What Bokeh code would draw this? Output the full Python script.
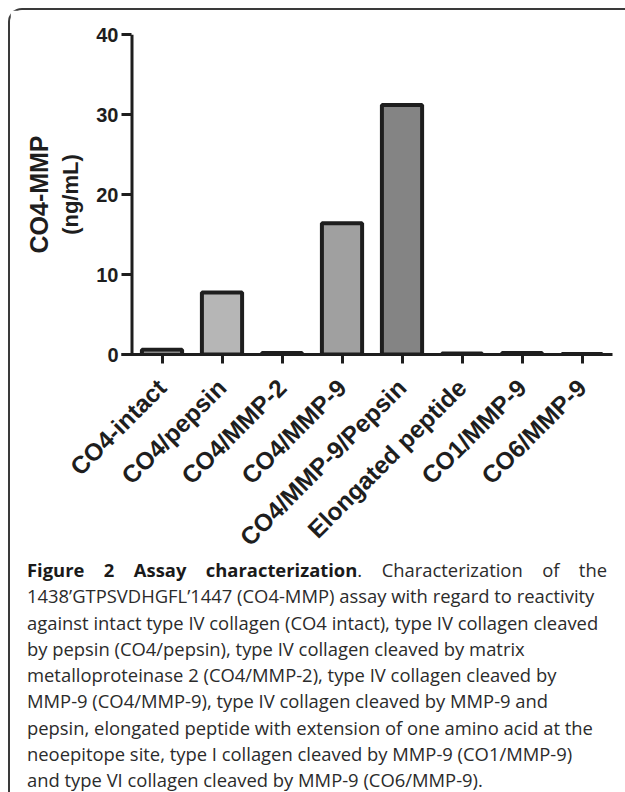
import math
from bokeh.plotting import figure
from bokeh.models import Range1d, FixedTicker, Span, LinearAxis, Div, ColumnDataSource
from bokeh.layouts import column
from bokeh.embed import file_html
from bokeh.resources import INLINE

# ---- data -------------------------------------------------------------
categories = ["CO4-intact", "CO4/pepsin", "CO4/MMP-2", "CO4/MMP-9",
              "CO4/MMP-9/Pepsin", "Elongated peptide", "CO1/MMP-9", "CO6/MMP-9"]
values = [0.6, 7.75, 0.2, 16.4, 31.2, 0.12, 0.2, 0.05]
fill_colors = ["#f4f4f4", "#b6b6b6", "#d8d8d8", "#a0a0a0",
               "#848484", "#d0d0d0", "#c4c4c4", "#bcbcbc"]
y_ticks = [0, 10, 20, 30, 40]
y_title = "CO4-MMP"
y_unit = "(ng/mL)"

caption_bold = "Figure 2 Assay characterization"
caption_first_rest = ". Characterization of the"
caption_lines = [
    "1438\u2019GTPSVDHGFL\u20191447 (CO4-MMP) assay with regard to reactivity",
    "against intact type IV collagen (CO4 intact), type IV collagen cleaved",
    "by pepsin (CO4/pepsin), type IV collagen cleaved by matrix",
    "metalloproteinase 2 (CO4/MMP-2), type IV collagen cleaved by",
    "MMP-9 (CO4/MMP-9), type IV collagen cleaved by MMP-9 and",
    "pepsin, elongated peptide with extension of one amino acid at the",
    "neoepitope site, type I collagen cleaved by MMP-9 (CO1/MMP-9)",
    "and type VI collagen cleaved by MMP-9 (CO6/MMP-9).",
]

# ---- chart ------------------------------------------------------------
ink = "#1e1e1e"
positions = list(range(len(categories)))
src = ColumnDataSource(dict(x=positions, top=values, color=fill_colors))

p = figure(frame_width=491, frame_height=320,
           x_range=Range1d(-0.675, len(categories) - 1 + 0.508),
           y_range=Range1d(y_ticks[0], y_ticks[-1]),
           output_backend="svg", toolbar_location=None,
           min_border_left=111, min_border_top=24,
           min_border_right=13, min_border_bottom=216)
p.outline_line_color = None
p.grid.visible = False
p.background_fill_color = "white"
p.border_fill_color = "white"

p.vbar(x="x", top="top", bottom=0, width=0.67, fill_color="color",
       line_color=ink, line_width=4, source=src)

# y axis line drawn at the left edge of the first category cell
p.add_layout(Span(location=-0.5, dimension="height", line_color=ink, line_width=3))

font = "Liberation Sans"
ya = p.yaxis[0]
ya.ticker = FixedTicker(ticks=y_ticks)
ya.axis_line_color = None
ya.major_tick_in = 10
ya.major_tick_out = 0
ya.major_tick_line_width = 3
ya.major_tick_line_color = ink
ya.minor_tick_line_color = None
ya.major_label_text_font = font
ya.major_label_text_font_style = "bold"
ya.major_label_text_font_size = "20px"
ya.major_label_text_color = ink
ya.major_label_standoff = 3
ya.axis_label = y_unit
ya.axis_label_text_font = font
ya.axis_label_text_font_style = "bold"
ya.axis_label_text_font_size = "22px"
ya.axis_label_text_color = ink
ya.axis_label_standoff = 10

ya2 = LinearAxis(ticker=FixedTicker(ticks=[]), axis_line_color=None,
                 major_tick_line_color=None, minor_tick_line_color=None,
                 axis_label=y_title, axis_label_text_font=font,
                 axis_label_text_font_style="bold",
                 axis_label_text_font_size="25px",
                 axis_label_text_color=ink, axis_label_standoff=3)
p.add_layout(ya2, "left")

xa = p.xaxis[0]
xa.ticker = FixedTicker(ticks=positions)
xa.major_label_overrides = {i: c for i, c in zip(positions, categories)}
xa.major_label_orientation = math.pi / 4
xa.axis_line_width = 3
xa.axis_line_color = ink
xa.major_tick_in = 0
xa.major_tick_out = 9
xa.major_tick_line_width = 3
xa.major_tick_line_color = ink
xa.minor_tick_line_color = None
xa.major_label_text_font = font
xa.major_label_text_font_style = "bold"
xa.major_label_text_font_size = "24.5px"
xa.major_label_text_color = ink
xa.major_label_standoff = 20

# ---- caption ----------------------------------------------------------
cap_font = "'Open Sans', sans-serif"
line_style = "white-space:nowrap;height:26.3px;line-height:26.3px;"
html = [f'<div style="font-family:{cap_font};font-size:18.4px;color:#2b2b2b;'
        f'padding-left:12px;width:592px;">']
html.append(f'<div style="{line_style}text-align:justify;text-align-last:justify;">'
            f'<b style="color:#1a1a1a;">{caption_bold}</b>{caption_first_rest}</div>')
for ln in caption_lines:
    html.append(f'<div style="{line_style}">{ln}</div>')
html.append('</div>')
cap = Div(text="".join(html), width=615, height=236,
          styles={"margin-top": "-13px"})

layout = column(p, cap, spacing=0,
                styles={"margin-left": "8px", "margin-top": "8px",
                        "border-top": "2px solid #3a3a3a",
                        "border-left": "2px solid #3a3a3a",
                        "border-top-left-radius": "14px",
                        "background": "white"})

open("out.html", "w").write(file_html(layout, INLINE))
